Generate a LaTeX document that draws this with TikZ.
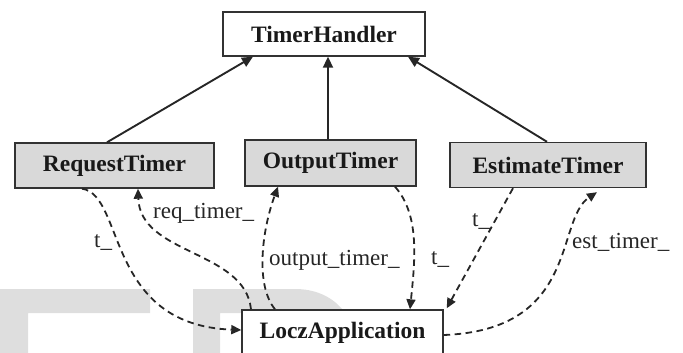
\documentclass[tikz,border=0pt]{standalone}
\usepackage{fontspec}
\setmainfont{Liberation Serif}
\usetikzlibrary{arrows.meta}
\definecolor{wm}{RGB}{222,222,222}
\definecolor{boxfill}{RGB}{217,217,217}
\definecolor{edge}{RGB}{50,50,50}
\begin{document}
\begin{tikzpicture}[x=1pt,y=-1pt,
  cls/.style={draw=edge,line width=1.4pt,rectangle,inner sep=0pt,
    font=\fontsize{23.5}{28}\selectfont\bfseries,text=black!90},
  sub/.style={cls,fill=boxfill},
  gen/.style={-{Triangle[length=11pt,width=10pt]},line width=1.9pt,draw=black!85},
  dep/.style={-{Triangle[length=10pt,width=9pt]},line width=1.8pt,draw=black!85,dash pattern=on 6.5pt off 4.5pt},
  lbl/.style={font=\fontsize{23}{27}\selectfont,text=black!85,inner sep=0pt}]
\useasboundingbox (0,0) rectangle (683,353);
% watermark
\fill[wm] (0,289) -- (150,289) -- (150,313) -- (28,313) -- (28,353) -- (0,353) -- cycle;
\fill[wm] (193,289) -- (295,289) .. controls (335,289) and (357,318) .. (358,353)
  -- (332,353) .. controls (330,330) and (315,313) .. (290,313)
  -- (220,313) -- (220,353) -- (193,353) -- cycle;
% nodes
\node[cls,minimum width=202pt,minimum height=44pt] (th) at (324,34) {TimerHandler};
\node[sub,minimum width=199pt,minimum height=45pt] (rt) at (114.5,165.5) {RequestTimer};
\node[sub,minimum width=171pt,minimum height=46pt] (ot) at (330.5,163) {OutputTimer};
\node[sub,minimum width=196pt,minimum height=45pt] (et) at (548,165) {EstimateTimer};
\node[cls,fill=white,minimum width=201pt,minimum height=46pt] (lz) at (342.5,333) {LoczApplication};
% generalisation
\draw[gen] ([xshift=-7.5pt]rt.north) -- ([xshift=-71pt]th.south);
\draw[gen] ([xshift=-2.5pt]ot.north) -- ([xshift=4pt]th.south);
\draw[gen] ([xshift=-1pt]et.north) -- ([xshift=84pt]th.south);
% dependencies
\draw[dep] ([xshift=-32.5pt]rt.south) .. controls (125,195) and (105,325) .. ([yshift=3pt]lz.west);
\draw[dep] ([xshift=-91.5pt]lz.north) .. controls (245,250) and (140,255) .. ([xshift=23.5pt]rt.south);
\draw[dep] ([xshift=-67.5pt]lz.north) .. controls (255,285) and (262,230) .. ([xshift=-52.5pt]ot.south);
\draw[dep] ([xshift=64.5pt]ot.south) .. controls (420,215) and (415,260) .. ([xshift=67.5pt]lz.north);
\draw[dep] ([xshift=-35pt]et.south) -- ([xshift=3pt,yshift=1pt]lz.north east);
\draw[dep] ([yshift=-2pt]lz.east) .. controls (580,330) and (555,220) .. ([xshift=49pt,yshift=-4pt]et.south);
% labels
\node[lbl,anchor=west] (l1) at (94,243) {t\_};
\node[lbl,anchor=west] (l2) at (153,213) {req\_timer\_};
\node[lbl,anchor=west] (l3) at (269,260) {output\_timer\_};
\node[lbl,anchor=west] (l4) at (431,260) {t\_};
\node[lbl,anchor=west] (l5) at (472,222) {t\_};
\node[lbl,anchor=west] (l6) at (572,242) {est\_timer\_};
\end{tikzpicture}
\end{document}
